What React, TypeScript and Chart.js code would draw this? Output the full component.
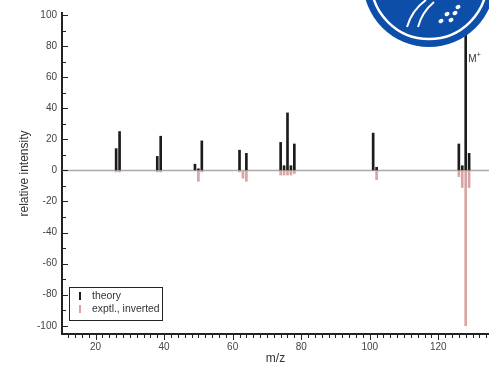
import React, { useEffect, useRef } from 'react';
import { Chart, registerables } from 'chart.js';

Chart.register(...registerables);

// m/z values and relative intensities
const theoryMz = [26, 27, 38, 39, 49, 50, 51, 62, 64, 74, 75, 76, 77, 78, 101, 102, 126, 127, 128, 129];
const theoryInt = [14, 25, 9, 22, 4, 1, 19, 13, 11, 18, 3, 37, 3, 17, 24, 2, 17, 3, 100, 11];
const exptMz = [26, 27, 38, 39, 50, 51, 62, 63, 64, 74, 75, 76, 77, 78, 102, 126, 127, 128, 129];
const exptInt = [-1, -1, -1, -1, -7, -1, -1, -5, -7, -3, -3, -3, -3, -2, -6, -4, -11, -100, -11];

const xTickValues = [20, 40, 60, 80, 100, 120];
const yTickValues = [-100, -80, -60, -40, -20, 0, 20, 40, 60, 80, 100];

const seriesLabels = ['theory', 'exptl., inverted'];
const FONT = "'Liberation Sans', Arial, sans-serif";
const BLACK = '#1c1c1c';
const PINK = '#d8a4a4';

const decoPlugin = {
  id: 'deco',
  beforeDatasetsDraw(chart: any) {
    const { ctx, chartArea, scales } = chart;
    const y0 = scales.y.getPixelForValue(0);
    ctx.save();
    ctx.strokeStyle = '#aaaaaa';
    ctx.lineWidth = 1.5;
    ctx.beginPath();
    ctx.moveTo(chartArea.left, y0);
    ctx.lineTo(chartArea.right, y0);
    ctx.stroke();
    ctx.restore();
  },
  afterDraw(chart: any) {
    const { ctx, chartArea, scales } = chart;
    const xs = scales.x;
    const ys = scales.y;
    ctx.save();
    // minor + major ticks
    ctx.strokeStyle = '#222';
    ctx.lineWidth = 1;
    for (let v = 12; v <= 134; v += 2) {
      const px = Math.round(xs.getPixelForValue(v)) + 0.5;
      const len = v % 20 === 0 ? 5 : 3;
      ctx.beginPath();
      ctx.moveTo(px, chartArea.bottom);
      ctx.lineTo(px, chartArea.bottom + 1 + len);
      ctx.stroke();
    }
    for (let v = -100; v <= 100; v += 10) {
      const py = Math.round(ys.getPixelForValue(v)) + 0.5;
      const len = v % 20 === 0 ? 5 : 3;
      ctx.beginPath();
      ctx.moveTo(chartArea.left, py);
      ctx.lineTo(chartArea.left + 1 + len, py);
      ctx.stroke();
    }
    // legend
    const lx = 69, ly = 287, lw = 93, lh = 33;
    ctx.fillStyle = '#fff';
    ctx.fillRect(lx, ly, lw, lh);
    ctx.strokeStyle = '#222';
    ctx.lineWidth = 1;
    ctx.strokeRect(lx + 0.5, ly + 0.5, lw, lh);
    const colors = [BLACK, PINK];
    ctx.font = `10.4px ${FONT}`;
    ctx.textBaseline = 'middle';
    seriesLabels.forEach((lab, i) => {
      const ry = 296 + i * 13;
      ctx.fillStyle = colors[i];
      ctx.fillRect(79, ry - 4, 2, 8);
      ctx.fillStyle = '#333';
      ctx.fillText(lab, 92, ry);
    });
    // M+ label
    const mx = xs.getPixelForValue(128) + 2.5;
    const my = ys.getPixelForValue(70);
    ctx.fillStyle = '#333';
    ctx.font = `10px ${FONT}`;
    ctx.textBaseline = 'alphabetic';
    ctx.fillText('M', mx, my);
    ctx.font = `7px ${FONT}`;
    ctx.fillText('+', mx + 8.5, my - 5);
    // logo (decoration)
    const cx = 429, cy = -19, r = 66;
    ctx.fillStyle = '#0c4ea8';
    ctx.beginPath();
    ctx.arc(cx, cy, r, 0, Math.PI * 2);
    ctx.fill();
    ctx.strokeStyle = '#fff';
    ctx.lineWidth = 2.5;
    ctx.beginPath();
    ctx.arc(cx, cy, r - 8, 0, Math.PI * 2);
    ctx.stroke();
    ctx.lineWidth = 2;
    ctx.beginPath();
    ctx.moveTo(407, 27);
    ctx.quadraticCurveTo(412, 10, 426, 0);
    ctx.stroke();
    ctx.beginPath();
    ctx.moveTo(418, 27);
    ctx.quadraticCurveTo(422, 12, 434, 2);
    ctx.stroke();
    ctx.fillStyle = '#fff';
    const dots = [[441, 21], [447, 14], [451, 20], [458, 7], [455, 13]];
    dots.forEach(([dx, dy]) => {
      ctx.beginPath();
      ctx.ellipse(dx, dy, 2.6, 2, -0.5, 0, Math.PI * 2);
      ctx.fill();
    });
    ctx.restore();
  },
};

export default function App() {
  const ref = useRef<HTMLCanvasElement | null>(null);
  useEffect(() => {
    if (!ref.current) return;
    const chart = new Chart(ref.current, {
      type: 'bar',
      data: {
        datasets: [
          {
            label: seriesLabels[0],
            data: theoryMz.map((m, i) => ({ x: m, y: theoryInt[i] })),
            backgroundColor: BLACK,
            barThickness: 2,
            grouped: false,
          } as any,
          {
            label: seriesLabels[1],
            data: exptMz.map((m, i) => ({ x: m, y: exptInt[i] })),
            backgroundColor: PINK,
            barThickness: 2,
            grouped: false,
          } as any,
        ],
      },
      options: {
        animation: false,
        responsive: false,
        layout: { padding: { top: 13, left: 0, right: 0, bottom: 0 } },
        plugins: { legend: { display: false }, tooltip: { enabled: false } },
        scales: {
          x: {
            type: 'linear',
            min: 10.2,
            max: 134.8,
            offset: false,
            afterFit: (s: any) => { s.height = 35; },
            afterBuildTicks: (s: any) => { s.ticks = xTickValues.map((v) => ({ value: v })); },
            grid: { display: true, drawOnChartArea: false, drawTicks: false },
            border: { display: true, color: '#222', width: 2 },
            ticks: { padding: 7, color: '#444', font: { family: FONT, size: 10 }, maxRotation: 0 },
            title: { display: true, text: 'm/z', color: '#333', font: { family: FONT, size: 12 }, padding: { top: 0, bottom: 3 } },
          },
          y: {
            type: 'linear',
            min: -105.3,
            max: 101.3,
            afterFit: (s: any) => { s.width = 62; },
            afterBuildTicks: (s: any) => { s.ticks = yTickValues.map((v) => ({ value: v })); },
            grid: { display: true, drawOnChartArea: false, drawTicks: false },
            border: { display: true, color: '#222', width: 2 },
            ticks: { padding: 5, color: '#444', font: { family: FONT, size: 10 } },
            title: { display: true, text: 'relative intensity', color: '#333', font: { family: FONT, size: 12 }, padding: { top: 17, bottom: 0 } },
          },
        },
      } as any,
      plugins: [decoPlugin],
    });
    return () => chart.destroy();
  }, []);
  return (
    <div style={{ position: 'fixed', left: 0, top: 0, width: 489, height: 369, background: '#fff' }}>
      <canvas ref={ref} width={489} height={369} style={{ display: 'block' }} />
    </div>
  );
}
